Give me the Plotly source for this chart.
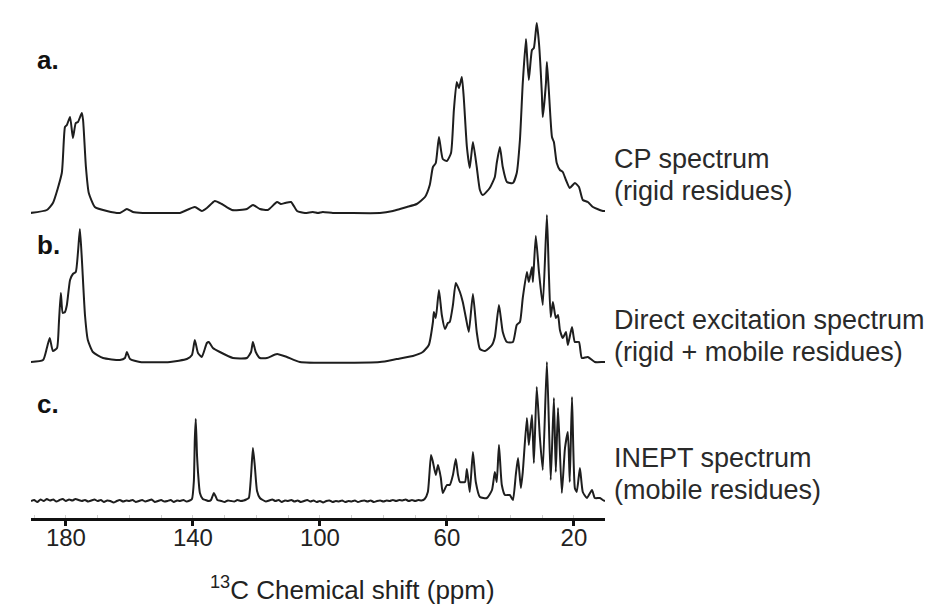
import plotly.graph_objects as go

# ---------------- data (ppm, intensity) ----------------
cp_points = [
    (191.3, 0), (186.0, 3), (184.1, 10), (181.3, 40), (180.3, 86), (179.7, 88),
    (178.7, 96), (177.8, 75), (176.9, 90), (176.2, 91), (175.0, 100), (174.6, 93),
    (173.7, 46), (172.8, 20), (170.9, 6), (167.1, 2), (163.0, 0), (160.8, 4),
    (158.9, 1), (155.8, 0), (146.3, 0), (144.1, 0), (139.4, 6), (137.2, 2),
    (135.6, 5), (133.1, 12), (130.9, 9), (127.7, 3), (123.0, 4), (121.1, 8),
    (118.9, 4), (116.4, 3), (113.5, 11), (112.3, 9), (111.0, 10), (109.1, 11),
    (107.2, 2), (104.7, 0), (102.2, 1), (100.6, 0), (99.1, 1), (95.9, 0),
    (91.5, 0), (81.1, 0), (77.0, 2), (74.8, 4), (72.6, 6), (69.5, 9),
    (66.9, 16), (65.4, 28), (64.4, 46), (63.5, 50), (62.5, 76), (61.3, 54),
    (60.0, 52), (58.7, 60), (57.8, 103), (56.9, 131), (56.2, 125), (55.3, 136),
    (54.7, 116), (53.7, 66), (52.8, 45), (51.8, 71), (50.6, 46), (49.6, 23),
    (48.7, 18), (46.5, 25), (44.9, 36), (44.3, 50), (43.3, 66), (42.4, 46),
    (41.1, 31), (39.2, 30), (38.0, 40), (37.0, 73), (36.1, 130), (35.1, 174),
    (34.8, 160), (34.2, 133), (33.2, 163), (32.6, 165), (31.7, 190), (31.0, 170),
    (30.1, 120), (29.8, 96), (28.8, 130), (28.5, 151), (27.9, 123), (26.9, 76),
    (26.3, 71), (25.4, 50), (24.4, 43), (23.5, 41), (22.5, 33), (21.3, 25),
    (19.7, 30), (18.4, 26), (17.2, 13), (15.6, 11), (14.0, 6), (10.9, 2), (10.2, 2),
]

de_points = [
    (191.3, 0), (187.2, 2), (186.0, 14), (185.1, 24), (184.1, 11), (182.8, 14),
    (182.2, 40), (181.6, 69), (181.0, 49), (180.3, 50), (179.7, 57), (178.7, 82),
    (177.8, 88), (176.9, 90), (176.2, 110), (175.6, 133), (175.0, 104), (174.0, 47),
    (173.1, 22), (171.5, 10), (168.3, 4), (163.0, 2), (161.4, 4), (160.8, 10),
    (159.8, 3), (156.7, 0), (147.2, 0), (141.9, 3), (140.3, 7), (139.4, 22),
    (138.4, 9), (137.2, 5), (135.6, 19), (135.0, 20), (133.7, 14), (131.5, 10),
    (127.4, 4), (123.0, 4), (121.7, 10), (121.1, 20), (120.2, 10), (118.9, 4),
    (116.7, 4), (113.5, 8), (110.4, 5), (106.3, 0), (81.1, 0), (75.8, 3),
    (70.7, 6), (67.6, 10), (65.7, 17), (64.4, 40), (64.1, 50), (63.5, 44),
    (62.5, 72), (61.6, 47), (60.6, 33), (59.7, 39), (59.1, 40), (58.1, 57),
    (57.2, 79), (55.9, 70), (55.0, 60), (54.0, 44), (53.1, 30), (51.8, 68),
    (50.6, 30), (49.6, 13), (48.0, 11), (45.8, 17), (44.9, 25), (43.6, 57),
    (42.4, 30), (41.1, 20), (39.2, 20), (38.0, 37), (37.0, 40), (36.1, 64),
    (34.8, 90), (34.2, 80), (33.2, 95), (32.9, 80), (32.0, 126), (31.0, 90),
    (29.8, 57), (28.5, 147), (27.9, 90), (27.3, 45), (26.6, 60), (25.7, 44),
    (25.0, 47), (24.4, 32), (23.5, 24), (22.5, 30), (21.9, 17), (20.6, 35),
    (19.7, 20), (18.4, 20), (17.5, 4), (15.6, 5), (13.4, 0), (10.9, 0), (10.2, 0),
]

inept_points = [
    (191.0, 0), (190.0, 1), (189.0, -1), (188.0, 1.5), (187.0, 0), (186.0, 2),
    (185.0, 0.5), (184.0, 1.5), (183.0, -0.5), (182.0, 1), (181.0, 2), (180.0, 0),
    (179.0, 1.5), (178.0, 0.5), (177.0, 2), (176.0, 1), (175.0, 0), (174.0, 1),
    (173.0, -0.5), (172.0, 0.5), (171.0, 1.5), (170.0, 0), (169.0, 1), (168.0, -1),
    (167.0, 0.5), (166.0, 0), (165.0, -1.5), (164.0, 0), (163.0, 1), (162.0, -0.5),
    (161.0, 0.5), (160.0, 0), (159.0, 1), (158.0, -1), (157.0, 0), (156.0, 1),
    (155.0, -0.5), (154.0, 0.5), (153.0, 1.5), (152.0, -1), (151.0, 0), (150.0, 1),
    (149.0, -0.5), (148.0, 0), (147.0, 1), (146.0, -1), (145.0, 0.5), (144.0, 0),
    (143.0, 1), (142.0, -0.5), (141.0, 0.5), (140.3, 2), (139.7, 20), (139.4, 62),
    (139.1, 82), (138.7, 45), (138.4, 29), (137.8, 8), (136.9, 2), (136.0, 1),
    (135.0, 0), (134.3, 1), (133.8, 5), (133.4, 8), (132.9, 5), (132.3, 1),
    (131.0, 0), (130.0, -1), (129.0, 0.5), (128.0, 0), (127.0, -0.5), (126.0, 1),
    (125.0, 0), (124.0, 0.5), (123.2, 1.5), (122.4, 3), (121.7, 25), (121.1, 53),
    (120.5, 35), (119.8, 10), (118.9, 3), (118.0, 1), (117.0, -0.5), (116.0, 0.5),
    (115.0, 1.5), (114.0, 0), (113.0, 1), (112.0, -1), (111.0, 0.5), (110.0, 0),
    (109.0, 1), (108.0, -0.5), (107.0, 0.5), (106.0, -1), (105.0, 0), (104.0, 1),
    (103.0, -0.5), (102.0, 0.5), (101.0, -1), (100.0, 0), (99.0, -1.5), (98.0, 0),
    (97.0, 0.5), (96.0, -1), (95.0, 0), (94.0, -0.5), (93.0, 0.5), (92.0, -1),
    (91.0, 0), (90.0, -0.5), (89.0, 0.5), (88.0, -1), (87.0, 0), (86.0, 0.5),
    (85.0, -0.5), (84.0, 0.5), (83.0, -1), (82.0, 0), (81.0, 0.5), (80.0, -0.5),
    (79.0, 0.5), (78.0, 0), (77.0, 1), (76.0, 0), (75.0, 1), (74.0, 0.5),
    (73.0, 1.5), (72.0, 0), (71.0, 1), (70.0, 0), (69.0, 1), (68.0, 0.5),
    (67.0, 2), (66.0, 9), (65.0, 46), (64.4, 39), (63.5, 26), (62.8, 36),
    (61.9, 23), (61.3, 8), (60.0, 16), (59.1, 16), (58.1, 26), (57.2, 42),
    (56.5, 26), (55.9, 19), (54.3, 19), (53.7, 32), (52.8, 9), (51.8, 49),
    (50.9, 19), (49.6, 4), (47.4, 3), (45.8, 11), (44.9, 29), (44.3, 19),
    (43.6, 56), (42.7, 16), (41.7, 6), (40.2, 6), (39.2, 1), (38.3, 26),
    (37.6, 43), (36.7, 13), (36.1, 29), (34.8, 83), (34.2, 56), (33.2, 86),
    (32.6, 38), (31.7, 114), (30.7, 63), (29.8, 31), (28.5, 139), (27.3, 21),
    (26.3, 103), (25.7, 29), (25.0, 93), (23.8, 8), (22.8, 53), (21.9, 69),
    (21.3, 19), (20.6, 104), (19.7, 13), (19.1, 9), (18.1, 33), (17.2, 9),
    (15.9, 3), (14.3, 11), (13.4, 3), (11.8, 3), (10.9, 1), (10.2, 0),
]

panel_letters = ["a.", "b.", "c."]
panel_titles = ["CP spectrum", "Direct excitation spectrum", "INEPT spectrum"]
panel_subtitles = ["(rigid residues)", "(rigid + mobile residues)", "(mobile residues)"]
tick_values = [180, 140, 100, 60, 20]
tick_labels = ["180", "140", "100", "60", "20"]
x_title = "<sup>13</sup>C Chemical shift (ppm)"
ppm_range = [191.0, 10.2]

# ---------------- layout helpers ----------------
W, H = 934, 613
ML, MR, MT, MB = 31, 329, 10, 94
PLOT_W = W - ML - MR
PLOT_H = H - MT - MB
AXIS_Y = H - MB


def fy(p):
    return (AXIS_Y - p) / PLOT_H


def fx(p):
    return (p - ML) / PLOT_W


FONT = "Liberation Sans, Arial, Helvetica, sans-serif"
LINE = dict(color="#1e1e1e", width=2.0, shape="spline", smoothing=0.5)

series = [cp_points, de_points, inept_points]
# (pixel of bottom of panel, pixel of top of panel, axis range)
panels = [(218, 13, [-5, 200]), (367, 205, [-5, 157]), (506, 355, [-5, 146])]
yaxis_names = ["y", "y2", "y3"]

fig = go.Figure()
for pts, yname in zip(series, yaxis_names):
    fig.add_trace(go.Scatter(
        x=[p for p, _ in pts], y=[v for _, v in pts],
        xaxis="x", yaxis=yname, mode="lines", line=LINE,
        hoverinfo="skip", showlegend=False,
    ))

layout_axes = {}
for i, (bot, top, rng) in enumerate(panels):
    key = "yaxis" if i == 0 else f"yaxis{i + 1}"
    layout_axes[key] = dict(domain=[fy(bot), fy(top)], range=rng, visible=False,
                            anchor="x", fixedrange=True)

fig.update_layout(
    width=W, height=H,
    margin=dict(l=ML, r=MR, t=MT, b=MB),
    paper_bgcolor="white", plot_bgcolor="rgba(0,0,0,0)",
    font=dict(family=FONT, color="#222222"),
    xaxis=dict(
        range=ppm_range, anchor="free", position=0, domain=[0, 1],
        showgrid=False, zeroline=False,
        showline=True, linecolor="#111111", linewidth=2.5,
        tickmode="array", tickvals=tick_values, ticktext=tick_labels,
        ticks="outside", ticklen=5, tickwidth=3, tickcolor="#111111",
        ticklabelstandoff=-8,
        tickfont=dict(size=24, family=FONT, color="#222222"),
        minor=dict(tickmode="linear", tick0=0, dtick=10, ticks="inside",
                   ticklen=3, tickwidth=1, tickcolor="#d0d0d0", showgrid=False),
        fixedrange=True,
    ),
    **layout_axes,
)

annotations = []
letter_y = [60, 245, 404]
for letter, yy in zip(panel_letters, letter_y):
    annotations.append(dict(
        text=f"<b>{letter}</b>", x=fx(35), y=fy(yy), xref="paper", yref="paper",
        xanchor="left", yanchor="middle", showarrow=False,
        font=dict(size=26, family=FONT, color="#111111"),
    ))

title_y = [(159, 191), (320, 352), (458, 490)]
for t, s, (y1, y2) in zip(panel_titles, panel_subtitles, title_y):
    for txt, yy in ((t, y1), (s, y2)):
        annotations.append(dict(
            text=txt, x=fx(612), y=fy(yy), xref="paper", yref="paper",
            xanchor="left", yanchor="middle", showarrow=False,
            font=dict(size=27, family=FONT, color="#2a2a2a"),
        ))

annotations.append(dict(
    text=x_title, x=fx(352), y=fy(607), xref="paper", yref="paper",
    xanchor="center", yanchor="bottom", showarrow=False,
    font=dict(size=26, family=FONT, color="#222222"),
))

fig.update_layout(annotations=annotations)
fig.write_html(
    "out.html",
    config={"displayModeBar": False, "staticPlot": True},
    post_script="document.body.style.margin='0';document.body.style.padding='0';"
                "document.documentElement.style.overflow='hidden';",
)
